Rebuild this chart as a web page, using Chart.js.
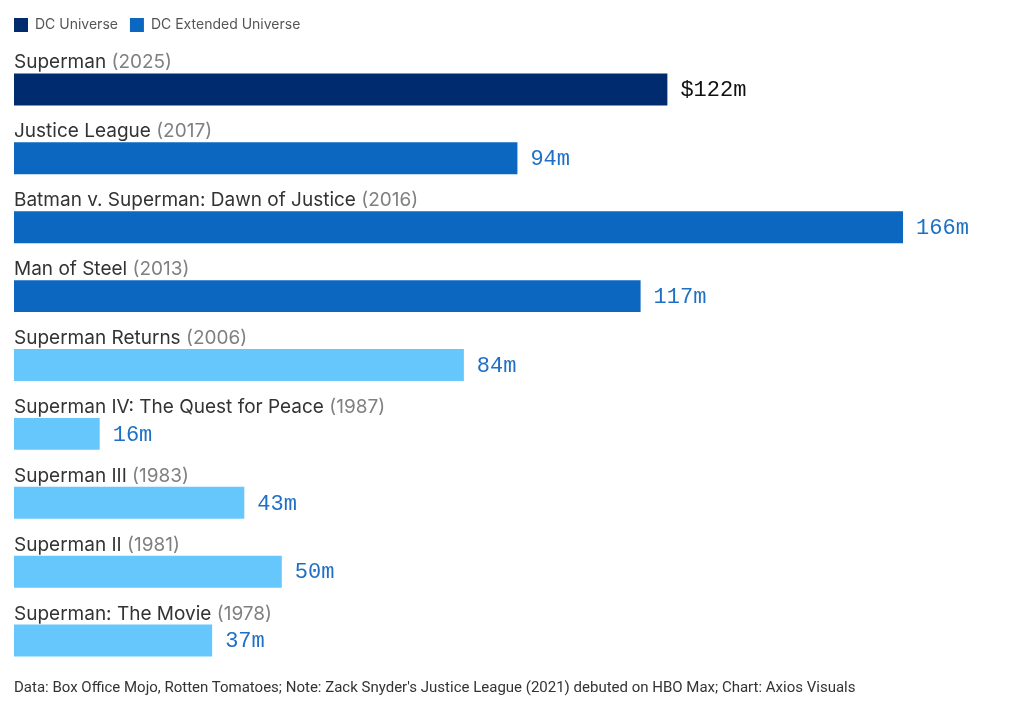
<!DOCTYPE html>
<html>
<head>
<meta charset="utf-8">
<script src="https://cdn.jsdelivr.net/npm/chart.js@4.4.1/dist/chart.umd.min.js"></script>
<style>
  html, body { margin: 0; padding: 0; background: #fff; }
  #wrap { position: relative; width: 1013px; height: 713px; }
  #footer {
    position: absolute; left: 14px; top: 678px;
    font: 15px "Roboto", sans-serif; color: #333; white-space: nowrap;
  }
</style>
</head>
<body>
<div id="wrap">
  <canvas id="chart" width="1013" height="713"></canvas>
  <div id="footer">Data: Box Office Mojo, Rotten Tomatoes; Note: Zack Snyder's Justice League (2021) debuted on HBO Max; Chart: Axios Visuals</div>
</div>
<script>
// Opening weekend box office, millions of dollars
const films = ["Superman", "Justice League", "Batman v. Superman: Dawn of Justice", "Man of Steel",
  "Superman Returns", "Superman IV: The Quest for Peace", "Superman III", "Superman II", "Superman: The Movie"];
const years = [2025, 2017, 2016, 2013, 2006, 1987, 1983, 1981, 1978];
const openings = [122, 94, 166, 117, 84, 16, 43, 50, 37];
const eras = ["DCU", "DCEU", "DCEU", "DCEU", "older", "older", "older", "older", "older"];

const eraColors = { DCU: "#002b6e", DCEU: "#0b67c0", older: "#66c7fc" };
const legendItems = [
  { text: "DC Universe", era: "DCU" },
  { text: "DC Extended Universe", era: "DCEU" }
];

// names above bars, values right of bars
const barText = {
  id: "barText",
  afterDatasetsDraw(chart) {
    const ctx = chart.ctx;
    const left = chart.chartArea.left;
    const meta = chart.getDatasetMeta(0);
    ctx.save();
    meta.data.forEach((bar, i) => {
      const top = bar.y - bar.height / 2;
      ctx.textBaseline = "alphabetic";
      ctx.textAlign = "left";
      ctx.font = '19px "Inter", sans-serif';
      ctx.fillStyle = "#333";
      ctx.fillText(films[i], left, top - 5);
      const w = ctx.measureText(films[i] + " ").width;
      ctx.fillStyle = "#808080";
      ctx.fillText("(" + years[i] + ")", left + w, top - 5);

      ctx.font = '22px "Liberation Mono", monospace';
      ctx.textBaseline = "middle";
      ctx.fillStyle = i === 0 ? "#111" : "#1f70c4";
      const label = i === 0 ? "$" + openings[i] + "m" : openings[i] + "m";
      ctx.fillText(label, bar.x + 13, bar.y + 1);
    });
    ctx.restore();
  }
};

new Chart(document.getElementById("chart"), {
  type: "bar",
  data: {
    labels: films,
    datasets: [{
      label: "Opening weekend",
      data: openings,
      backgroundColor: eras.map(e => eraColors[e]),
      borderWidth: 0,
      categoryPercentage: 1,
      barPercentage: 0.464
    }]
  },
  options: {
    indexAxis: "y",
    responsive: false,
    animation: false,
    layout: { padding: { left: 2, right: 35, top: 6, bottom: 38 } },
    scales: {
      x: {
        position: "top",
        min: 0,
        max: 180,
        grid: { display: false },
        border: { display: false },
        ticks: { display: false },
        afterFit: s => { s.height = 13; }
      },
      y: {
        grid: { display: false },
        border: { display: false },
        ticks: { display: false },
        afterFit: s => { s.width = 12; }
      }
    },
    plugins: {
      legend: {
        position: "top",
        align: "start",
        labels: {
          boxWidth: 14,
          boxHeight: 14,
          padding: 12,
          color: "#555",
          font: { family: "Inter", size: 14 },
          generateLabels: () => legendItems.map(it => ({
            text: it.text,
            fillStyle: eraColors[it.era],
            strokeStyle: eraColors[it.era],
            lineWidth: 0,
            fontColor: "#555"
          }))
        },
        onClick: null
      },
      tooltip: { enabled: false }
    }
  },
  plugins: [barText]
});
</script>
</body>
</html>
